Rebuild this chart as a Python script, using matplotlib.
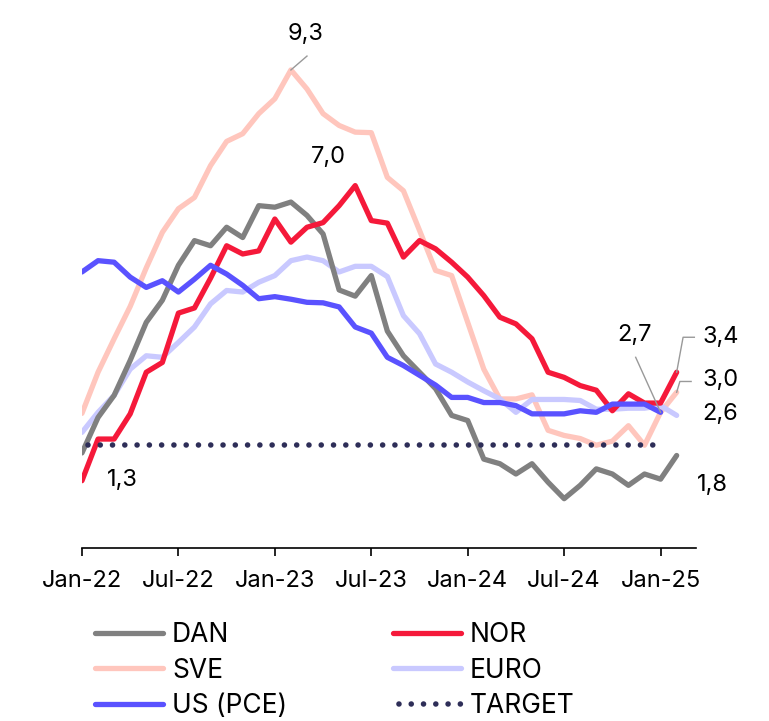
import numpy as np
import matplotlib
matplotlib.use("Agg")
import matplotlib.pyplot as plt

plt.rcParams['font.family'] = ['Inter', 'DejaVu Sans']

# monthly, Jan-22 .. Feb-25 (US ends Jan-25)
months = ["Jan-22", "Jul-22", "Jan-23", "Jul-23", "Jan-24", "Jul-24", "Jan-25"]

dan = [1.85, 2.54, 2.97, 3.65, 4.39, 4.82, 5.5, 5.98, 5.88, 6.24, 6.04, 6.66, 6.63,
       6.73, 6.47, 6.11, 5.02, 4.9, 5.3, 4.22, 3.74, 3.42, 3.1, 2.58, 2.48, 1.73,
       1.64, 1.44, 1.64, 1.28, 0.96, 1.22, 1.54, 1.44, 1.22, 1.44, 1.34, 1.8]
nor = [1.31, 2.12, 2.12, 2.61, 3.42, 3.61, 4.57, 4.67, 5.25, 5.88, 5.72, 5.78, 6.4,
       5.95, 6.24, 6.33, 6.66, 7.05, 6.37, 6.32, 5.66, 5.98, 5.82, 5.56, 5.27, 4.91,
       4.49, 4.36, 4.07, 3.42, 3.32, 3.16, 3.07, 2.67, 3.0, 2.82, 2.82, 3.42]
sve = [2.62, 3.42, 4.07, 4.7, 5.45, 6.14, 6.6, 6.82, 7.44, 7.91, 8.06, 8.45, 8.74,
       9.3, 8.93, 8.45, 8.22, 8.09, 8.08, 7.21, 6.95, 6.18, 5.4, 5.3, 4.39, 3.48,
       2.9, 2.9, 2.98, 2.29, 2.19, 2.13, 2.0, 2.08, 2.38, 2.0, 2.64, 3.03]
euro = [2.25, 2.64, 2.97, 3.48, 3.74, 3.71, 4.0, 4.3, 4.75, 5.01, 4.98, 5.17, 5.3,
        5.59, 5.66, 5.59, 5.37, 5.48, 5.48, 5.28, 4.52, 4.17, 3.58, 3.42, 3.23, 3.06,
        2.9, 2.64, 2.89, 2.89, 2.89, 2.87, 2.7, 2.7, 2.72, 2.72, 2.77, 2.58]
us = [5.37, 5.59, 5.56, 5.27, 5.07, 5.2, 4.98, 5.23, 5.5, 5.33, 5.11, 4.85, 4.89,
      4.84, 4.78, 4.77, 4.69, 4.3, 4.18, 3.71, 3.55, 3.36, 3.17, 2.93, 2.93, 2.83,
      2.83, 2.77, 2.61, 2.61, 2.61, 2.67, 2.64, 2.8, 2.8, 2.8, 2.64]
target = [2.0] * 37

fig = plt.figure(figsize=(7.69, 7.21), dpi=100)
ax = fig.add_axes([0.1066, 0.2399, 0.7984, 0.713])

lw = 3.8
kw = dict(lw=lw, solid_capstyle="round", solid_joinstyle="round")
l_sve, = ax.plot(np.arange(len(sve)), sve, color="#FFC6BD", label="SVE", **kw)
l_euro, = ax.plot(np.arange(len(euro)), euro, color="#C9C9FF", label="EURO", **kw)
l_dan, = ax.plot(np.arange(len(dan)), dan, color="#808080", label="DAN", **kw)
l_nor, = ax.plot(np.arange(len(nor)), nor, color="#F5193A", label="NOR", **kw)
l_us, = ax.plot(np.arange(len(us)), us, color="#5A52FF", label="US (PCE)", **kw)
l_tgt, = ax.plot(np.arange(len(target)), target, color="#2E2E58", lw=4,
                 linestyle=(1.14, (0.01, 2.2)), dash_capstyle="round", label="TARGET")

ax.set_xlim(0, 38.2)
ax.set_ylim(0, 10)
for s in ["top", "right", "left"]:
    ax.spines[s].set_visible(False)
ax.spines["bottom"].set_linewidth(1.2)
ax.set_yticks([])
ax.set_xticks(np.arange(0, 37, 6))
ax.set_xticklabels(months, fontsize=17)
ax.tick_params(axis="x", length=6, width=1.2, pad=10)

# value labels
fs = 17
lc = "#999999"
ax.plot([13, 14.0], [sve[13], 9.57], color=lc, lw=1, clip_on=False)
ax.text(13.9, 10.0, "9,3", fontsize=fs, ha="center", va="center")
ax.text(15.3, 7.6, "7,0", fontsize=fs, ha="center", va="center")
ax.text(2.5, 1.32, "1,3", fontsize=fs, ha="center", va="center")
ax.plot([34.45, 36], [3.71, us[36]], color=lc, lw=1, clip_on=False)
ax.text(34.4, 4.14, "2,7", fontsize=fs, ha="center", va="center")
ax.plot([37, 37.4, 38.1], [nor[37], 4.1, 4.1], color=lc, lw=1, clip_on=False)
ax.plot([37, 37.2, 37.9], [sve[37], 3.24, 3.24], color=lc, lw=1, clip_on=False)
ax.text(38.6, 4.1, "3,4", fontsize=fs, ha="left", va="center")
ax.text(38.6, 3.26, "3,0", fontsize=fs, ha="left", va="center")
ax.text(38.6, 2.6, "2,6", fontsize=fs, ha="left", va="center")
ax.text(38.25, 1.22, "1,8", fontsize=fs, ha="left", va="center")

handles = [l_dan, l_sve, l_us, l_nor, l_euro, l_tgt]
fig.legend(handles=handles, labels=[h.get_label() for h in handles], ncol=2,
           loc="upper left", bbox_to_anchor=(0.1235, 0.137), frameon=False,
           fontsize=19, handlelength=2.58, handletextpad=0.34, columnspacing=4.0,
           labelspacing=0.36, borderaxespad=0, borderpad=0)

fig.savefig("out.png", dpi=100)
